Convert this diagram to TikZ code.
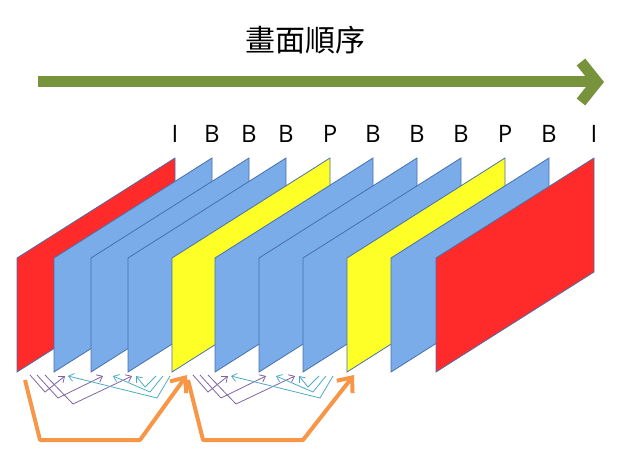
\documentclass[tikz,border=0pt]{standalone}
\usepackage{fontspec}
\setmainfont{Open Sans}
\newfontfamily\cjk{Noto Sans CJK TC}
\usetikzlibrary{arrows.meta,calc,positioning}
\definecolor{iColor}{RGB}{255,42,42}
\definecolor{bColor}{RGB}{122,172,234}
\definecolor{pColor}{RGB}{255,255,40}
\definecolor{edgeColor}{RGB}{72,112,170}
\definecolor{orderColor}{RGB}{119,147,60}
\definecolor{refColor}{RGB}{247,150,70}
\definecolor{fwdColor}{RGB}{128,100,162}
\definecolor{bwdColor}{RGB}{75,172,198}
\tikzset{frame/.style={draw=edgeColor, line width=0.8pt}}
\tikzset{frametype/.style={font=\fontsize{24}{24}\selectfont, anchor=base}}
\tikzset{gop/.style={draw=refColor, line width=4pt, line join=round, -{Straight Barb[length=12pt, width=20pt]}}}
\tikzset{fwd/.style={draw=fwdColor, line width=0.8pt, -{Straight Barb[length=5pt, width=8pt]}}}
\tikzset{bwd/.style={fwd, draw=bwdColor}}
\begin{document}
\begin{tikzpicture}[x=1pt, y=-1pt]
\useasboundingbox (0,0) rectangle (640,460);
% Display order
    \node (Title) at (305,40) {\cjk\fontsize{30}{30}\selectfont 畫面順序};
    \coordinate (OrderStart) at (38,82);
    \coordinate (OrderEnd) at (604,82);
    \draw [orderColor, line width=11pt, -{Straight Barb[length=16pt, width=40pt]}] (OrderStart) -- (OrderEnd);

% Frames
    \foreach \x/\c/\t in {17/iColor/I, 54/bColor/B, 91/bColor/B, 128/bColor/B, 172/pColor/P, 215/bColor/B, 259/bColor/B, 303/bColor/B, 347/pColor/P, 391/bColor/B, 436/iColor/I} {
        \draw [frame, fill=\c] (\x,258) -- (\x+158,158) -- (\x+158,272) -- (\x,372) -- cycle;
        \node (Type\x) [frametype] at (\x+158,142) {\t};
    }

% Prediction
    \foreach \s/\e in {0/0, 163/4} {
    \begin{scope}[xshift=\s]
        \coordinate (OrangeStart) at (25,380);
        \coordinate (OrangeEnd) at (187+\e,375);
        \draw [gop] (OrangeStart) -- (40,440) -- (140,440) -- (OrangeEnd);

        \draw [fwd] (30,375) -- (45,392) -- (65,376);
        \draw [fwd] (37,375) -- (58,398) -- (103,376);
        \draw [fwd] (45,375) -- (73,404) -- (132,376);
        \draw [bwd] (170,376) -- (157,398) -- (68,376);
        \draw [bwd] (163,376) -- (150,392) -- (113,376);
        \draw [bwd] (156,376) -- (145,387) -- (136,376);
    \end{scope}
    }

\end{tikzpicture}
\end{document}
